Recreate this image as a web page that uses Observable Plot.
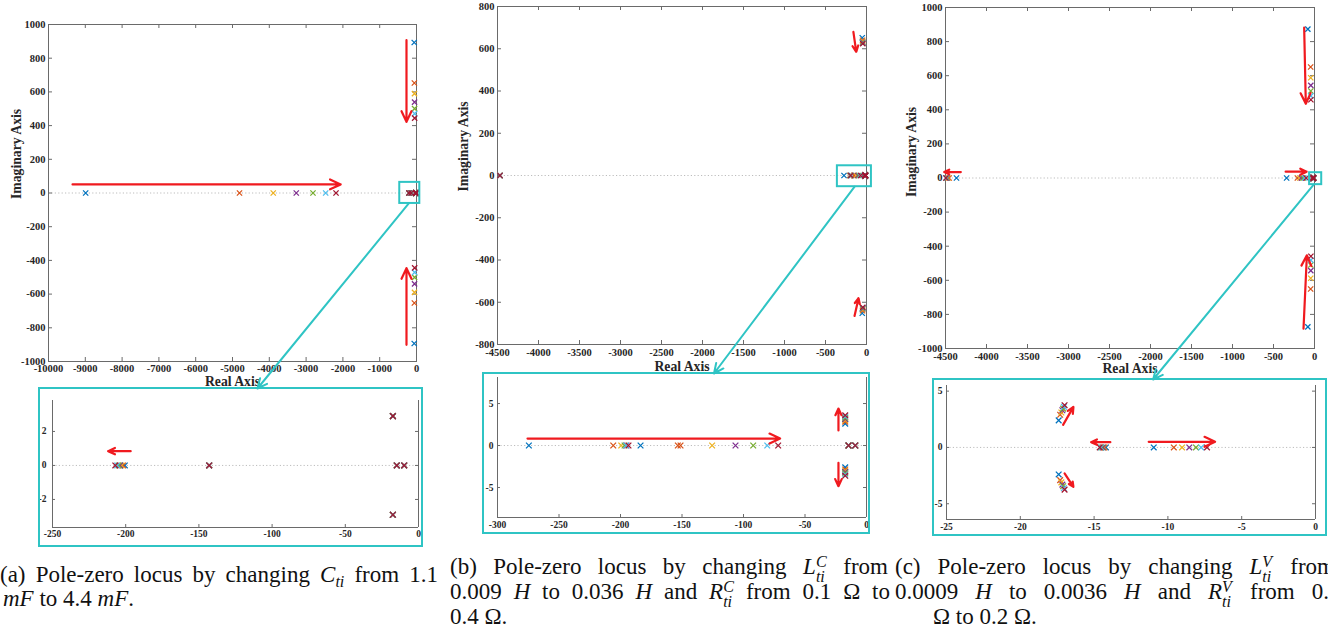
<!DOCTYPE html>
<html><head><meta charset="utf-8">
<script src="https://cdn.jsdelivr.net/npm/d3@7"></script>
<script src="https://cdn.jsdelivr.net/npm/@observablehq/plot@0.6"></script>
<style>
body{margin:0;background:#fff;}
#fig{position:relative;width:1328px;height:635px;overflow:hidden;background:#fff;}
.p{position:absolute;}
.cl{position:absolute;font-family:"Liberation Serif",serif;font-size:23px;line-height:25px;height:25px;white-space:nowrap;color:#111;}
.j{text-align:justify;text-align-last:justify;white-space:normal;}
.cl sub{vertical-align:baseline;position:relative;top:0.32em;font-size:0.7em;font-style:italic;}
.ss{position:relative;font-size:0.7em;font-style:italic;padding-right:2px;}
.ss .sb{position:relative;top:0.5em;}
.ss .sp{position:absolute;left:0;top:-0.68em;}
</style></head>
<body><div id="fig"></div>
<script>
// ---------- series colours (MATLAB default order) ----------
const colors = ["#0072BD","#D95319","#EDB120","#7E2F8E","#77AC30","#4DBEEE","#A2142F"];
const seriesIdx = [0,1,2,3,4,5,6];

// ---------- panel (a): changing C_ti ----------
const aFarRe  = [-8990, -4810, -3893, -3267, -2813, -2468, -2187];
const aOscRe  = [-62, -58, -55, -53, -52, -51, -50];
const aOscIm  = [893, 653, 590, 539, 501, 471, 444];
const aMidRe  = [-200.6, -201.8, -202.9, -203.9, -204.8, -205.8, -207.1];
const aFixRe  = [-143, -17.5, -17.5, -14.8, -9.8];
const aFixIm  = [0, 2.9, -2.9, 0, 0];

// ---------- panel (b): changing L^C_ti, R^C_ti ----------
const bFarRe  = [-4470, -4470, -4470, -4470, -4470, -4470, -4470];
const bOscRe  = [-52, -48, -47, -46, -46, -45, -45];
const bOscIm  = [652, 640, 635, 631, 628, 626, 624];
const bR1     = [-274.5, -205.9, -199.4, -195.1, -196.7, -195.5, -193.5];
const bR2     = [-183.7, -153.4, -125.5, -106.5, -92.1, -80.7, -71.8];
const bExtra  = [null, -151.2, null, null, null, null, null];
const bCpxRe  = [-17.3, -17.3, -17.3, -17.3, -17.3, -17.3, -17.3];
const bCpxIm  = [2.6, 2.85, 3.0, 3.15, 3.3, 3.45, 3.6];
const bFixRe  = [-14.6, -9.2];

// ---------- panel (c): changing L^V_ti, R^V_ti ----------
const cFarRe  = [-4366, -4455, -4470, -4480, -4486, -4491, -4496];
const cOscRe  = [-81, -47, -46, -45, -45, -45, -44];
const cOscIm  = [873, 651, 588, 543, 510, 482, 459];
const cMidRe  = [-340, -209, -180, -160, -140, -120, -100];
const cCpxRe  = [-17.4, -17.3, -17.22, -17.15, -17.1, -17.05, -17.0];
const cCpxIm  = [2.4, 2.9, 3.1, 3.3, 3.45, 3.6, 3.75];
const cR14    = [-14.2, -14.3, -14.35, -14.4, -14.5, -14.55, -14.62];
const cR7     = [-10.96, -9.6, -9.04, -8.55, -8.1, -7.75, -7.35];

// ---------- red direction arrows ----------
const aArrowsMain  = [{x1:-9347,y1:51,x2:-2060,y2:51},{x1:-272,y1:907,x2:-272,y2:422},{x1:-272,y1:-901,x2:-272,y2:-446}];
const aArrowsInset = [{x1:-196.6,y1:0.84,x2:-212,y2:0.84}];
const bArrowsMain  = [{x1:-160,y1:680,x2:-125,y2:585},{x1:-146,y1:-665,x2:-97,y2:-581}];
const bArrowsInset = [{x1:-275.6,y1:0.83,x2:-70.2,y2:0.83},{x1:-22.8,y1:1.8,x2:-22.8,y2:4.4},{x1:-22.8,y1:-2.06,x2:-22.8,y2:-4.84}];
const cArrowsMain  = [{x1:-126,y1:882,x2:-106,y2:435},{x1:-134,y1:-884,x2:-93,y2:-453},{x1:-4313,y1:35,x2:-4516,y2:35},{x1:-352,y1:37,x2:-96,y2:37}];
const cArrowsInset = [{x1:-13.9,y1:0.47,x2:-15.2,y2:0.47},{x1:-11.3,y1:0.5,x2:-6.8,y2:0.5},{x1:-17.1,y1:2.0,x2:-16.4,y2:3.6},{x1:-17.0,y1:-2.3,x2:-16.4,y2:-3.5}];

// ---------- zoom boxes (data coords of main plots) ----------
const aZoomBox = [{x1:-455,x2:90,y1:-62,y2:63}];
const bZoomBox = [{x1:-355,x2:60,y1:-53,y2:46}];
const cZoomBox = [{x1:-60,x2:88,y1:-39,y2:31}];

// ---------- ticks ----------
const xTicksA = d3.range(-10000, 1, 1000);
const yTicksA = d3.range(-1000, 1001, 200);
const xTicksB = d3.range(-4500, 1, 500);
const yTicksB = d3.range(-800, 801, 200);
const xTicksC = d3.range(-4500, 1, 500);
const yTicksC = d3.range(-1000, 1001, 200);
const xTicksAi = [-250,-200,-150,-100,-50,0];
const yTicksAi = [-2,0,2];
const xTicksBi = [-300,-250,-200,-150,-100,-50,0];
const yTicksBi = [-5,0,5];
const xTicksCi = [-25,-20,-15,-10,-5,0];
const yTicksCi = [-5,0,5];

// ---------- build pole tables ----------
function buildA(){const o=[];for(const s of seriesIdx){
  o.push({re:aFarRe[s],im:0,s},{re:aOscRe[s],im:aOscIm[s],s},{re:aOscRe[s],im:-aOscIm[s],s},{re:aMidRe[s],im:0,s});
  aFixRe.forEach((r,k)=>o.push({re:r,im:aFixIm[k],s}));}return o;}
function buildB(){const o=[];for(const s of seriesIdx){
  o.push({re:bFarRe[s],im:0,s},{re:bOscRe[s],im:bOscIm[s],s},{re:bOscRe[s],im:-bOscIm[s],s},{re:bR1[s],im:0,s},{re:bR2[s],im:0,s},
         {re:bCpxRe[s],im:bCpxIm[s],s},{re:bCpxRe[s],im:-bCpxIm[s],s});
  if(bExtra[s]!==null)o.push({re:bExtra[s],im:0,s});
  bFixRe.forEach(r=>o.push({re:r,im:0,s}));}return o;}
function buildC(){const o=[];for(const s of seriesIdx){
  o.push({re:cFarRe[s],im:0,s},{re:cOscRe[s],im:cOscIm[s],s},{re:cOscRe[s],im:-cOscIm[s],s},{re:cMidRe[s],im:0,s},
         {re:cCpxRe[s],im:cCpxIm[s],s},{re:cCpxRe[s],im:-cCpxIm[s],s},{re:cR14[s],im:0,s},{re:cR7[s],im:0,s});}return o;}
const polesA = buildA(), polesB = buildB(), polesC = buildC();

const frameColor = "#6a6a6a", red = "#f01a1f", cyan = "#2fc4c4";
const fontFam = "'Liberation Serif', serif";
const fig = document.getElementById("fig");

function makePlot(o){
  const ih = o.height - o.mt - o.mb;
  const iw = o.width - o.ml - o.mr;
  const tl = o.tickLen;
  const marks = [];
  marks.push(Plot.ruleY([0], {stroke:"#b5b5b5", strokeDasharray:"1.2,2.2", strokeWidth:0.9}));
  if (o.inset) {
    marks.push(Plot.ruleX([o.xd[0], o.xd[1]], {stroke:frameColor, strokeWidth:1}));
    marks.push(Plot.ruleY([o.yd[0]], {stroke:frameColor, strokeWidth:1}));
  } else {
    marks.push(Plot.frame({stroke:frameColor, strokeWidth:1}));
    marks.push(Plot.tickX(o.xt, {x:d=>d, insetBottom: ih - tl, stroke:frameColor}));
  }
  marks.push(Plot.tickX(o.xt, {x:d=>d, insetTop: ih - tl, stroke:frameColor}));
  marks.push(Plot.tickY(o.yt, {y:d=>d, insetRight: iw - tl, stroke:frameColor}));
  marks.push(Plot.tickY(o.yt, {y:d=>d, insetLeft: iw - tl, stroke:frameColor}));
  const axText = {fontFamily:fontFam, fontWeight:"bold", fontSize:o.fs, fill:"#262626"};
  marks.push(Plot.axisX({ticks:o.xt, tickSize:0, tickPadding:o.xpad, tickFormat:d=>String(d), label:null, ...axText}));
  marks.push(Plot.axisY({ticks:o.yt, tickSize:0, tickPadding:o.ypad, tickFormat:d=>String(d), label:null, ...axText}));
  marks.push(Plot.dot(o.data, {x:"re", y:"im", symbol:"times", r:o.r, stroke:d=>colors[d.s], strokeWidth:1.25, clip:!!o.inset}));
  if (o.box) marks.push(Plot.rect(o.box, {x1:"x1",x2:"x2",y1:"y1",y2:"y2", fill:"none", stroke:cyan, strokeWidth:2}));
  marks.push(Plot.arrow(o.arrows, {x1:"x1",y1:"y1",x2:"x2",y2:"y2", stroke:red, strokeWidth:2.2, headLength:8, headAngle:50}));
  if (o.xlabel) marks.push(Plot.text([o.xlabel], {text:d=>d, frameAnchor:"bottom", dy:o.xlabDy, fontSize:13.7, fontWeight:"bold", fontFamily:fontFam, fill:"#262626", lineAnchor:"middle"}));
  if (o.ylabel) marks.push(Plot.text([o.ylabel], {text:d=>d, frameAnchor:"left", dx:o.ylabDx, dy:o.ylabDy, rotate:-90, fontSize:13.7, fontWeight:"bold", fontFamily:fontFam, fill:"#262626", lineAnchor:"middle"}));
  const p = Plot.plot({
    width:o.width, height:o.height,
    marginLeft:o.ml, marginRight:o.mr, marginTop:o.mt, marginBottom:o.mb,
    x:{domain:o.xd, label:null}, y:{domain:o.yd, label:null},
    color:{type:"identity"},
    style:{fontFamily:fontFam, fontSize:o.fs+"px", fontWeight:"bold", color:"#262626",
           background:o.inset?"#fff":"transparent", overflow:"visible"},
    marks
  });
  p.classList.add("p");
  p.style.left = o.left+"px"; p.style.top = o.top+"px";
  p.style.maxWidth = "none";
  fig.appendChild(p);
  o.px = v => o.left + o.ml + (v - o.xd[0])/(o.xd[1]-o.xd[0]) * iw;
  o.py = v => o.top + o.mt + (o.yd[1] - v)/(o.yd[1]-o.yd[0]) * ih;
  return o;
}

const mainA = makePlot({left:0, top:0, width:440, height:390, ml:48, mr:24, mt:24, mb:29,
  xd:[-10000,0], yd:[-1000,1000], xt:xTicksA, yt:yTicksA, data:polesA, arrows:aArrowsMain, box:aZoomBox,
  fs:10.5, r:2.5, tickLen:4, xpad:3, ypad:3, xlabel:"Real Axis", xlabDy:20, ylabel:"Imaginary Axis", ylabDx:-32, ylabDy:6});
const mainB = makePlot({left:440, top:0, width:440, height:372, ml:57, mr:14, mt:6, mb:28,
  xd:[-4500,0], yd:[-800,800], xt:xTicksB, yt:yTicksB, data:polesB, arrows:bArrowsMain, box:bZoomBox,
  fs:10.5, r:2.5, tickLen:4, xpad:4, ypad:3, xlabel:"Real Axis", xlabDy:22, ylabel:"Imaginary Axis", ylabDx:-34, ylabDy:16});
const mainC = makePlot({left:880, top:0, width:448, height:376, ml:65, mr:14, mt:7, mb:28,
  xd:[-4500,0], yd:[-1000,1000], xt:xTicksC, yt:yTicksC, data:polesC, arrows:cArrowsMain, box:cZoomBox,
  fs:10.5, r:2.5, tickLen:4, xpad:4, ypad:3, xlabel:"Real Axis", xlabDy:20, ylabel:"Imaginary Axis", ylabDx:-34, ylabDy:19});

const insA = makePlot({left:38, top:387, width:385, height:160, ml:14, mr:5, mt:13, mb:20, inset:true,
  xd:[-250,0], yd:[-3.65,3.82], xt:xTicksAi, yt:yTicksAi, data:polesA, arrows:aArrowsInset,
  fs:9.5, r:2.7, tickLen:3, xpad:3, ypad:6});
const insB = makePlot({left:482, top:372, width:388, height:162, ml:15, mr:4, mt:5, mb:17, inset:true,
  xd:[-300,0], yd:[-8.57,8.1], xt:xTicksBi, yt:yTicksBi, data:polesB, arrows:bArrowsInset,
  fs:9.5, r:2.7, tickLen:3, xpad:4, ypad:4});
const insC = makePlot({left:932, top:378, width:395, height:158, ml:14, mr:12, mt:7, mb:17, inset:true,
  xd:[-25,0], yd:[-6.4,5.5], xt:xTicksCi, yt:yTicksCi, data:polesC, arrows:cArrowsInset,
  fs:9.5, r:2.7, tickLen:3, xpad:4, ypad:4});

// ---------- cyan connectors from zoom box to inset ----------
const connectors = [
  {from:mainA, to:insA, fx:-210, fy:-62, tx:-110},
  {from:mainB, to:insB, fx:-145, fy:-53, tx:-124},
  {from:mainC, to:insC, fx:-10,  fy:-39, tx:-11}
];
const insets = [insA, insB, insC];
const connData = connectors.map(c => ({x1:c.from.px(c.fx), y1:c.from.py(c.fy), x2:c.to.px(c.tx), y2:c.to.top+1}));
const boxData = insets.map(o => ({x1:o.left+1, x2:o.left+o.width-1, y1:o.top+1, y2:o.top+o.height-1}));
const overlay = Plot.plot({
  width:1328, height:635, margin:0,
  x:{type:"identity", axis:null}, y:{type:"identity", axis:null},
  style:{background:"transparent", overflow:"visible"},
  marks:[
    Plot.rect(boxData, {x1:"x1",x2:"x2",y1:"y1",y2:"y2", fill:"none", stroke:cyan, strokeWidth:2}),
    Plot.arrow(connData, {x1:"x1",y1:"y1",x2:"x2",y2:"y2", stroke:cyan, strokeWidth:2, headLength:8, headAngle:50})
  ]
});
overlay.classList.add("p");
overlay.style.left="0px"; overlay.style.top="0px"; overlay.style.pointerEvents="none"; overlay.style.maxWidth="none";
fig.appendChild(overlay);

// ---------- captions ----------
const LC = '<i>L</i><span class="ss"><span class="sb">ti</span><span class="sp">C</span></span>';
const RC = '<i>R</i><span class="ss"><span class="sb">ti</span><span class="sp">C</span></span>';
const LV = '<i>L</i><span class="ss"><span class="sb">ti</span><span class="sp">V</span></span>';
const RV = '<i>R</i><span class="ss"><span class="sb">ti</span><span class="sp">V</span></span>';
const captionLines = [
  {left:0,   base:583, width:438, html:'(a) Pole-zero locus by changing <i>C</i><sub>ti</sub> from 1.1'},
  {left:3,   base:607, html:'<i>mF</i> to 4.4 <i>mF</i>.'},
  {left:450, base:575, width:438, html:'(b) Pole-zero locus by changing '+LC+' from'},
  {left:450, base:600, width:440, html:'0.009 <i>H</i> to 0.036 <i>H</i> and '+RC+' from 0.1 Ω to'},
  {left:450, base:625, html:'0.4 Ω.'},
  {left:895, base:575, width:440, html:'(c) Pole-zero locus by changing '+LV+' from'},
  {left:895, base:600, width:457, html:'0.0009 <i>H</i> to 0.0036 <i>H</i> and '+RV+' from 0.05'},
  {left:933, base:625, html:'Ω to 0.2 Ω.'}
];
for (const c of captionLines) {
  const d = document.createElement("div");
  d.className = "cl" + (c.width ? " j" : "");
  d.style.left = c.left + "px";
  d.style.top = (c.base - 21.5) + "px";
  if (c.width) d.style.width = c.width + "px";
  d.innerHTML = c.html;
  fig.appendChild(d);
}
</script>
</body></html>
